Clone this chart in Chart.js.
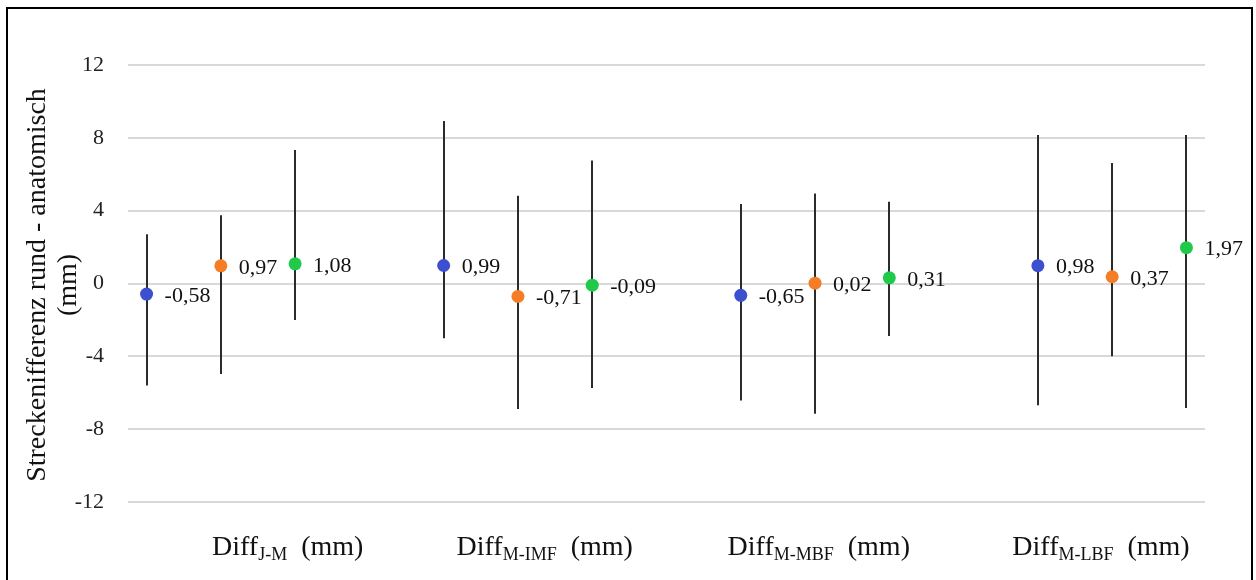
<!DOCTYPE html>
<html>
<head>
<meta charset="utf-8">
<script src="https://cdn.jsdelivr.net/npm/chart.js"></script>
<style>
html, body { margin: 0; padding: 0; background: #fff; overflow: hidden; }
#wrap { position: relative; width: 1256px; height: 580px; }
#frame { position: absolute; left: 6px; top: 7px; width: 1247px; height: 600px; border: 2px solid #000; box-sizing: border-box; pointer-events: none; }
</style>
</head>
<body>
<div id="wrap">
  <canvas id="chart" width="1256" height="580"></canvas>
  <div id="frame"></div>
</div>
<script>
// categories (subscript part of the label)
var categories = ["J-M", "M-IMF", "M-MBF", "M-LBF"];
var groupPos = [2, 6, 10, 14];
var yTicks = [-12, -8, -4, 0, 4, 8, 12];

var meanBlue = [-0.58, 0.99, -0.65, 0.98];
var upperBlue = [2.71, 8.93, 4.36, 8.16];
var lowerBlue = [-5.60, -3.00, -6.43, -6.69];

var meanOrange = [0.97, -0.71, 0.02, 0.37];
var upperOrange = [3.75, 4.82, 4.94, 6.62];
var lowerOrange = [-4.97, -6.89, -7.15, -3.99];

var meanGreen = [1.08, -0.09, 0.31, 1.97];
var upperGreen = [7.33, 6.76, 4.49, 8.16];
var lowerGreen = [-2.00, -5.74, -2.89, -6.84];

var SERIF = "'Liberation Serif', 'Times New Roman', serif";

function points(means, offset) {
    return means.map(function(v, i) {
        return { x: groupPos[i] + offset, y: v };
    });
}

var series = [
    { mean: meanBlue, up: upperBlue, low: lowerBlue, offset: -1, color: "#3b4fcf" },
    { mean: meanOrange, up: upperOrange, low: lowerOrange, offset: 0, color: "#f57d26" },
    { mean: meanGreen, up: upperGreen, low: lowerGreen, offset: 1, color: "#1fc94a" }
];

var extras = {
    id: "extras",
    beforeDatasetsDraw: function(chart) {
        var ctx = chart.ctx, xs = chart.scales.x, ys = chart.scales.y;
        ctx.save();
        ctx.strokeStyle = "#2b2b2b";
        ctx.lineWidth = 2;
        series.forEach(function(s) {
            s.mean.forEach(function(v, i) {
                var px = Math.round(xs.getPixelForValue(groupPos[i] + s.offset));
                ctx.beginPath();
                ctx.moveTo(px, ys.getPixelForValue(s.up[i]));
                ctx.lineTo(px, ys.getPixelForValue(s.low[i]));
                ctx.stroke();
            });
        });
        ctx.restore();
    },
    afterDatasetsDraw: function(chart) {
        var ctx = chart.ctx, xs = chart.scales.x, ys = chart.scales.y;
        ctx.save();
        ctx.fillStyle = "#111";
        ctx.font = "22px " + SERIF;
        ctx.textAlign = "left";
        ctx.textBaseline = "middle";
        series.forEach(function(s) {
            s.mean.forEach(function(v, i) {
                var px = xs.getPixelForValue(groupPos[i] + s.offset);
                var py = ys.getPixelForValue(v);
                ctx.fillText(v.toFixed(2).replace(".", ","), px + 18, py + 2);
            });
        });
        ctx.restore();
    },
    afterDraw: function(chart) {
        var ctx = chart.ctx, xs = chart.scales.x;
        var labelAt = [2.9, 6.36, 10.05, 13.85];
        ctx.save();
        ctx.fillStyle = "#111";
        ctx.textBaseline = "alphabetic";
        ctx.textAlign = "left";
        categories.forEach(function(c, i) {
            var big = "28px " + SERIF, small = "18px " + SERIF;
            ctx.font = big;
            var w1 = ctx.measureText("Diff").width;
            var w3 = ctx.measureText("  (mm)").width;
            ctx.font = small;
            var w2 = ctx.measureText(c).width;
            var x = xs.getPixelForValue(labelAt[i]) - (w1 + w2 + w3) / 2;
            var y = 555;
            ctx.font = big;
            ctx.fillText("Diff", x, y);
            ctx.font = small;
            ctx.fillText(c, x + w1, y + 5);
            ctx.font = big;
            ctx.fillText("  (mm)", x + w1 + w2, y);
        });
        // y axis title, two lines
        ctx.translate(0, 285);
        ctx.rotate(-Math.PI / 2);
        ctx.textAlign = "center";
        ctx.textBaseline = "middle";
        ctx.font = "28px " + SERIF;
        ctx.fillText("Streckenifferenz rund - anatomisch", 0, 38);
        ctx.fillText("(mm)", 0, 69);
        ctx.restore();
    }
};

new Chart(document.getElementById("chart"), {
    type: "scatter",
    data: {
        datasets: series.map(function(s) {
            return {
                data: points(s.mean, s.offset),
                backgroundColor: s.color,
                pointBackgroundColor: s.color,
                pointBorderWidth: 0,
                pointRadius: 6.5,
                showLine: false
            };
        })
    },
    options: {
        responsive: false,
        animation: false,
        layout: { padding: { top: 65, right: 51, bottom: 78, left: 0 } },
        plugins: { legend: { display: false }, tooltip: { enabled: false } },
        scales: {
            x: { type: "linear", min: 0.75, max: 15.25, display: false },
            y: {
                min: -12, max: 12,
                afterBuildTicks: function(s) { s.ticks = yTicks.map(function(v) { return { value: v }; }); },
                grid: { color: "#d9d9d9", lineWidth: 2, drawTicks: false },
                border: { display: false },
                ticks: { padding: 24, color: "#222", font: { family: SERIF, size: 22 } },
                afterFit: function(s) { s.width = 128; }
            }
        }
    },
    plugins: [extras]
});
</script>
</body>
</html>
